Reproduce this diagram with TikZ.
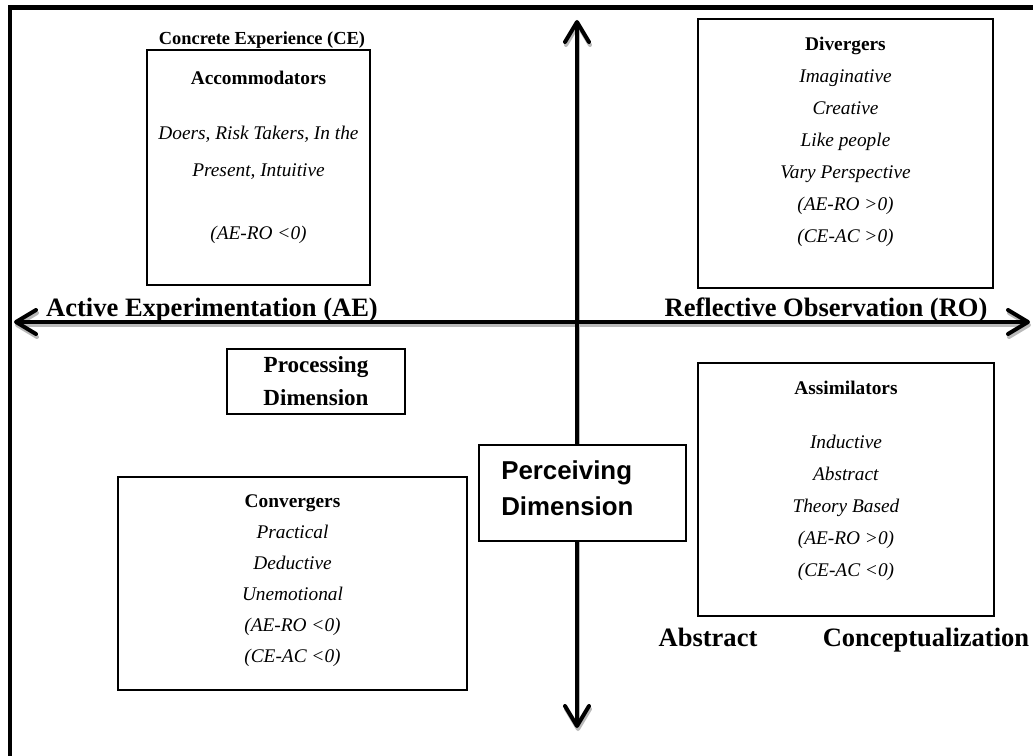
\documentclass[tikz,border=0pt]{standalone}
\usepackage{fontspec}
\setmainfont{Liberation Serif}
\newfontfamily\arialfont{Liberation Sans}
\usetikzlibrary{arrows.meta}

\begin{document}
\begin{tikzpicture}[x=0.75pt,y=-0.75pt]
    \tikzstyle{box}=[draw,line width=1.1pt,fill=white,inner sep=0pt]
    \tikzstyle{txt}=[inner sep=0pt,align=center,font=\fontsize{14.5}{24}\selectfont]
    \tikzstyle{axislabel}=[inner sep=0pt,font=\fontsize{19.9}{23}\selectfont\bfseries]
    \tikzstyle{axis}=[line width=3pt,{Straight Barb[length=15pt,width=18pt,round]}-{Straight Barb[length=15pt,width=18pt,round]}]
    \useasboundingbox (0,0) rectangle (1033,756);
    \draw[line width=3.6pt] (10,770) -- (10,7.5) -- (1050,7.5);
    \coordinate (N) at (577,20);
    \coordinate (S) at (577,728);
    \coordinate (W) at (14,322);
    \coordinate (E) at (1030,322);
    \draw[axis,gray!55] ([shift={(1,3)}]W) -- ([shift={(1,3)}]E);
    \draw[axis,gray!55] ([shift={(1,3)}]S) -- ([shift={(1,3)}]N);
    \draw[axis] (W) -- (E);
    \draw[axis] (S) -- (N);
    \node[box,minimum width=167.25pt,minimum height=176.25pt] (acc) at (258.5,167.5) {};
    \node[box,minimum width=221.25pt,minimum height=201.75pt] (div) at (845.5,153.5) {};
    \node[box,minimum width=133.5pt,minimum height=48.75pt] (proc) at (316,381.5) {};
    \node[box,minimum width=155.25pt,minimum height=72pt] (perc) at (582.5,493) {};
    \node[box,minimum width=222pt,minimum height=189.75pt] (asm) at (846,489.5) {};
    \node[box,minimum width=261.75pt,minimum height=159.75pt] (conv) at (292.5,583.5) {};
    \node[txt,font=\fontsize{13.8}{16}\selectfont\bfseries] (ce) at (262,40) {Concrete Experience (CE)};
    \node[txt,font=\fontsize{14.5}{27.75}\selectfont] (acc_t) at (258.5,157.5)
      {\textbf{Accommodators}\\[13.5pt] \textit{Doers, Risk Takers, In the}\\ \textit{Present, Intuitive}\\[19.5pt] \textit{(AE-RO <0)}};
    \node[txt] (div_t) at (845.5,141.5)
      {\textbf{Divergers}\\ \textit{Imaginative}\\ \textit{Creative}\\ \textit{Like people}\\ \textit{Vary Perspective}\\ \textit{(AE-RO >0)}\\ \textit{(CE-AC >0)}};
    \node[axislabel,anchor=base] (ae) at (212,317) {Active Experimentation (AE)};
    \node[axislabel,anchor=base] (ro) at (826,317) {Reflective Observation (RO)};
    \node[txt,font=\fontsize{17.3}{24.75}\selectfont\bfseries] (proc_t) at (316,381) {Processing\\ Dimension};
    \node[txt,align=left,anchor=west,font=\fontsize{19.4}{27}\selectfont\arialfont\bfseries] (perc_t) at (501,488) {Perceiving\\ Dimension};
    \node[txt] (asm_t) at (846,481)
      {\textbf{Assimilators}\\[16.5pt] \textit{Inductive}\\ \textit{Abstract}\\ \textit{Theory Based}\\ \textit{(AE-RO >0)}\\ \textit{(CE-AC <0)}};
    \node[txt,font=\fontsize{14.5}{23.25}\selectfont] (conv_t) at (292.5,581)
      {\textbf{Convergers}\\ \textit{Practical}\\ \textit{Deductive}\\ \textit{Unemotional}\\ \textit{(AE-RO <0)}\\ \textit{(CE-AC <0)}};
    \node[axislabel,anchor=base] (abs) at (708,646) {Abstract};
    \node[axislabel,anchor=base] (conc) at (926,646) {Conceptualization};
\end{tikzpicture}
\end{document}
